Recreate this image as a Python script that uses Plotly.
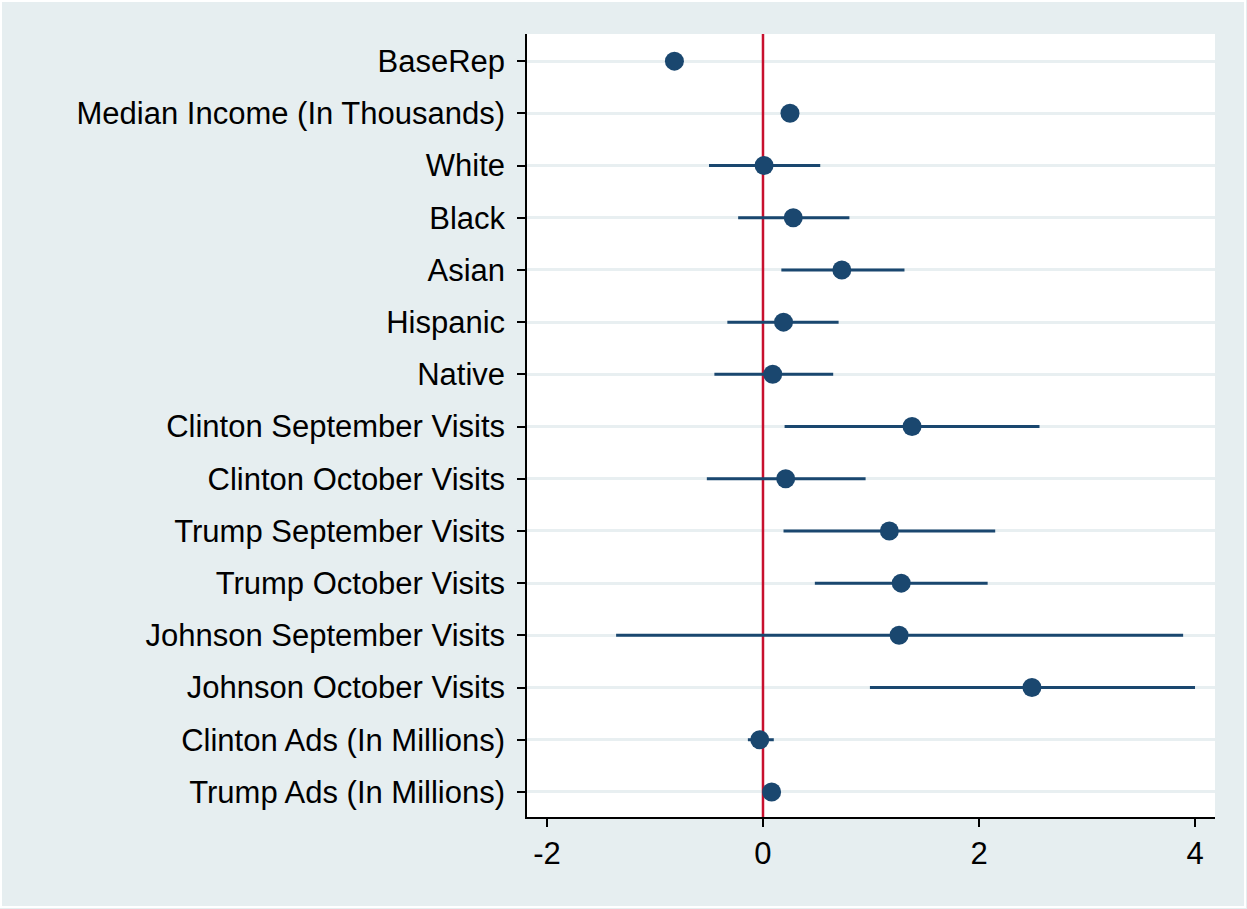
import plotly.graph_objects as go

# Coefficient estimates with 95% confidence intervals
variables = [
    "BaseRep",
    "Median Income (In Thousands)",
    "White",
    "Black",
    "Asian",
    "Hispanic",
    "Native",
    "Clinton September Visits",
    "Clinton October Visits",
    "Trump September Visits",
    "Trump October Visits",
    "Johnson September Visits",
    "Johnson October Visits",
    "Clinton Ads (In Millions)",
    "Trump Ads (In Millions)",
]
estimate = [-0.82, 0.25, 0.01, 0.28, 0.73, 0.19, 0.09, 1.38, 0.21, 1.17, 1.28, 1.26, 2.49, -0.03, 0.08]
ci_low = [-0.86, 0.22, -0.50, -0.23, 0.17, -0.33, -0.45, 0.20, -0.52, 0.19, 0.48, -1.36, 0.99, -0.14, 0.05]
ci_high = [-0.78, 0.28, 0.53, 0.80, 1.31, 0.70, 0.65, 2.56, 0.95, 2.15, 2.08, 3.89, 4.00, 0.10, 0.11]
x_ticks = [-2, 0, 2, 4]

rows = list(range(len(variables)))
err_plus = [h - e for h, e in zip(ci_high, estimate)]
err_minus = [e - l for e, l in zip(estimate, ci_low)]
y_range = [len(variables) - 0.52, -0.52]

NAVY = "#1a476f"
BG = "#e6eef0"

fig = go.Figure()

# reference line at zero, above the gridlines but under the markers
fig.add_trace(go.Scatter(
    x=[0, 0], y=y_range, mode="lines",
    line=dict(color="#c8102e", width=2.5),
    showlegend=False, hoverinfo="skip",
))

fig.add_trace(go.Scatter(
    x=estimate, y=rows, mode="markers",
    marker=dict(size=19, color=NAVY, line=dict(width=0)),
    error_x=dict(type="data", symmetric=False, array=err_plus, arrayminus=err_minus,
                 color=NAVY, thickness=3, width=0),
    showlegend=False, cliponaxis=False,
))

# thin white frame around the graph region
fig.add_shape(type="rect", xref="paper", yref="paper", x0=-0.7645, x1=1.0436, y0=-0.1149, y1=1.0421,
              line=dict(color="white", width=2), layer="below")

fig.update_layout(
    width=1247, height=909,
    margin=dict(l=527, r=32, t=34, b=92),
    paper_bgcolor=BG, plot_bgcolor="white",
    font=dict(family="Liberation Sans, Arial, Helvetica, sans-serif", size=31, color="black"),
    xaxis=dict(
        range=[-2.185, 4.185], tickvals=x_ticks, ticktext=[str(t) for t in x_ticks],
        showgrid=False, zeroline=False, showline=True, linecolor="black", linewidth=1.5,
        ticks="outside", ticklen=8, tickwidth=1.5, tickcolor="black",
        tickfont=dict(size=31),
    ),
    yaxis=dict(
        range=y_range, tickvals=rows, ticktext=variables,
        showgrid=True, gridcolor="#e8eff1", gridwidth=2.5, zeroline=False,
        showline=True, linecolor="black", linewidth=1.5,
        ticks="outside", ticklen=8, tickwidth=1.5, tickcolor="black",
        ticklabelstandoff=6,
        tickfont=dict(size=31),
    ),
)

fig.write_html("out.html")
